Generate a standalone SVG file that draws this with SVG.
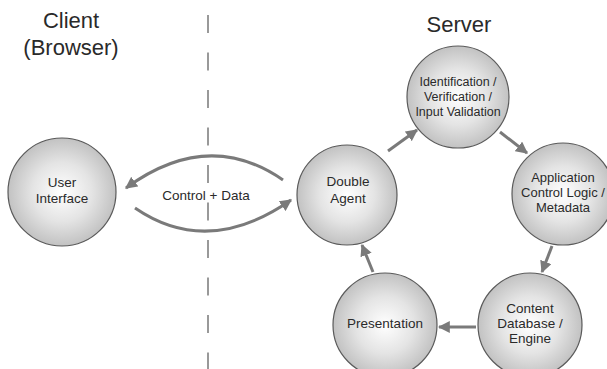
<svg xmlns="http://www.w3.org/2000/svg" width="607" height="369" viewBox="0 0 607 369">
<style>
.node{fill:url(#g);stroke:#5a5a5a;stroke-width:1.2}
.t{font-family:"Liberation Sans",Arial,sans-serif;font-size:13.5px;fill:#2a2a2a;text-anchor:middle}
.s{font-size:12.5px}
.m{font-size:13px}
.h{font-family:"Liberation Sans",Arial,sans-serif;font-size:22px;fill:#2a2a2a;text-anchor:middle}
.c{fill:none;stroke:#7a7a7a;stroke-width:3}
</style>
<defs>
<radialGradient id="g" cx="0.5" cy="0.5" r="0.5">
<stop offset="0" stop-color="#ffffff"/>
<stop offset="0.55" stop-color="#e4e4e4"/>
<stop offset="1" stop-color="#c2c2c2"/>
</radialGradient>
<marker id="a" viewBox="0 0 10 10" refX="9" refY="5" markerWidth="4" markerHeight="4" orient="auto" markerUnits="strokeWidth">
<path d="M0,0 L10,5 L0,10 z" fill="#7a7a7a"/>
</marker>
</defs>
<rect width="607" height="369" fill="#fff"/>
<text class="h" x="71" y="28">Client</text>
<text class="h" x="71" y="55">(Browser)</text>
<text class="h" x="459" y="32">Server</text>
<line x1="208" y1="15" x2="208" y2="369" stroke="#999" stroke-width="2" stroke-dasharray="18 19.5"/>
<g id="connectors">
<path class="c" d="M283,180 Q208,128 126,188" marker-end="url(#a)"/>
<path class="c" d="M135,208 Q208,258 291,200" marker-end="url(#a)"/>
<line class="c" x1="388" y1="151" x2="417" y2="130" marker-end="url(#a)"/>
<line class="c" x1="500" y1="132" x2="527" y2="153" marker-end="url(#a)"/>
<line class="c" x1="552" y1="246" x2="542" y2="272" marker-end="url(#a)"/>
<line class="c" x1="476" y1="327" x2="439" y2="327" marker-end="url(#a)"/>
<line class="c" x1="373" y1="272" x2="362" y2="245" marker-end="url(#a)"/>
<text class="t" x="206" y="200">Control + Data</text>
</g>
<g id="ui"><circle class="node" cx="62" cy="192" r="54"/>
<text class="t" x="62" y="187">User</text><text class="t" x="62" y="203">Interface</text></g>
<g id="da"><circle class="node" cx="347" cy="195" r="50"/>
<text class="t" x="348" y="186">Double</text><text class="t" x="348" y="203">Agent</text></g>
<g id="iv"><circle class="node" cx="458" cy="97" r="51"/>
<text class="t s" x="458" y="86">Identification /</text><text class="t s" x="458" y="101">Verification /</text><text class="t s" x="458" y="116">Input Validation</text></g>
<g id="ac"><circle class="node" cx="563" cy="194" r="51"/>
<text class="t m" x="563" y="182">Application</text><text class="t m" x="563" y="197">Control Logic /</text><text class="t m" x="563" y="212">Metadata</text></g>
<g id="cd"><circle class="node" cx="530" cy="325" r="52"/>
<text class="t" x="530" y="313">Content</text><text class="t" x="530" y="328">Database /</text><text class="t" x="530" y="343">Engine</text></g>
<g id="pr"><circle class="node" cx="385" cy="325" r="52"/>
<text class="t" x="385" y="328">Presentation</text></g>
</svg>
